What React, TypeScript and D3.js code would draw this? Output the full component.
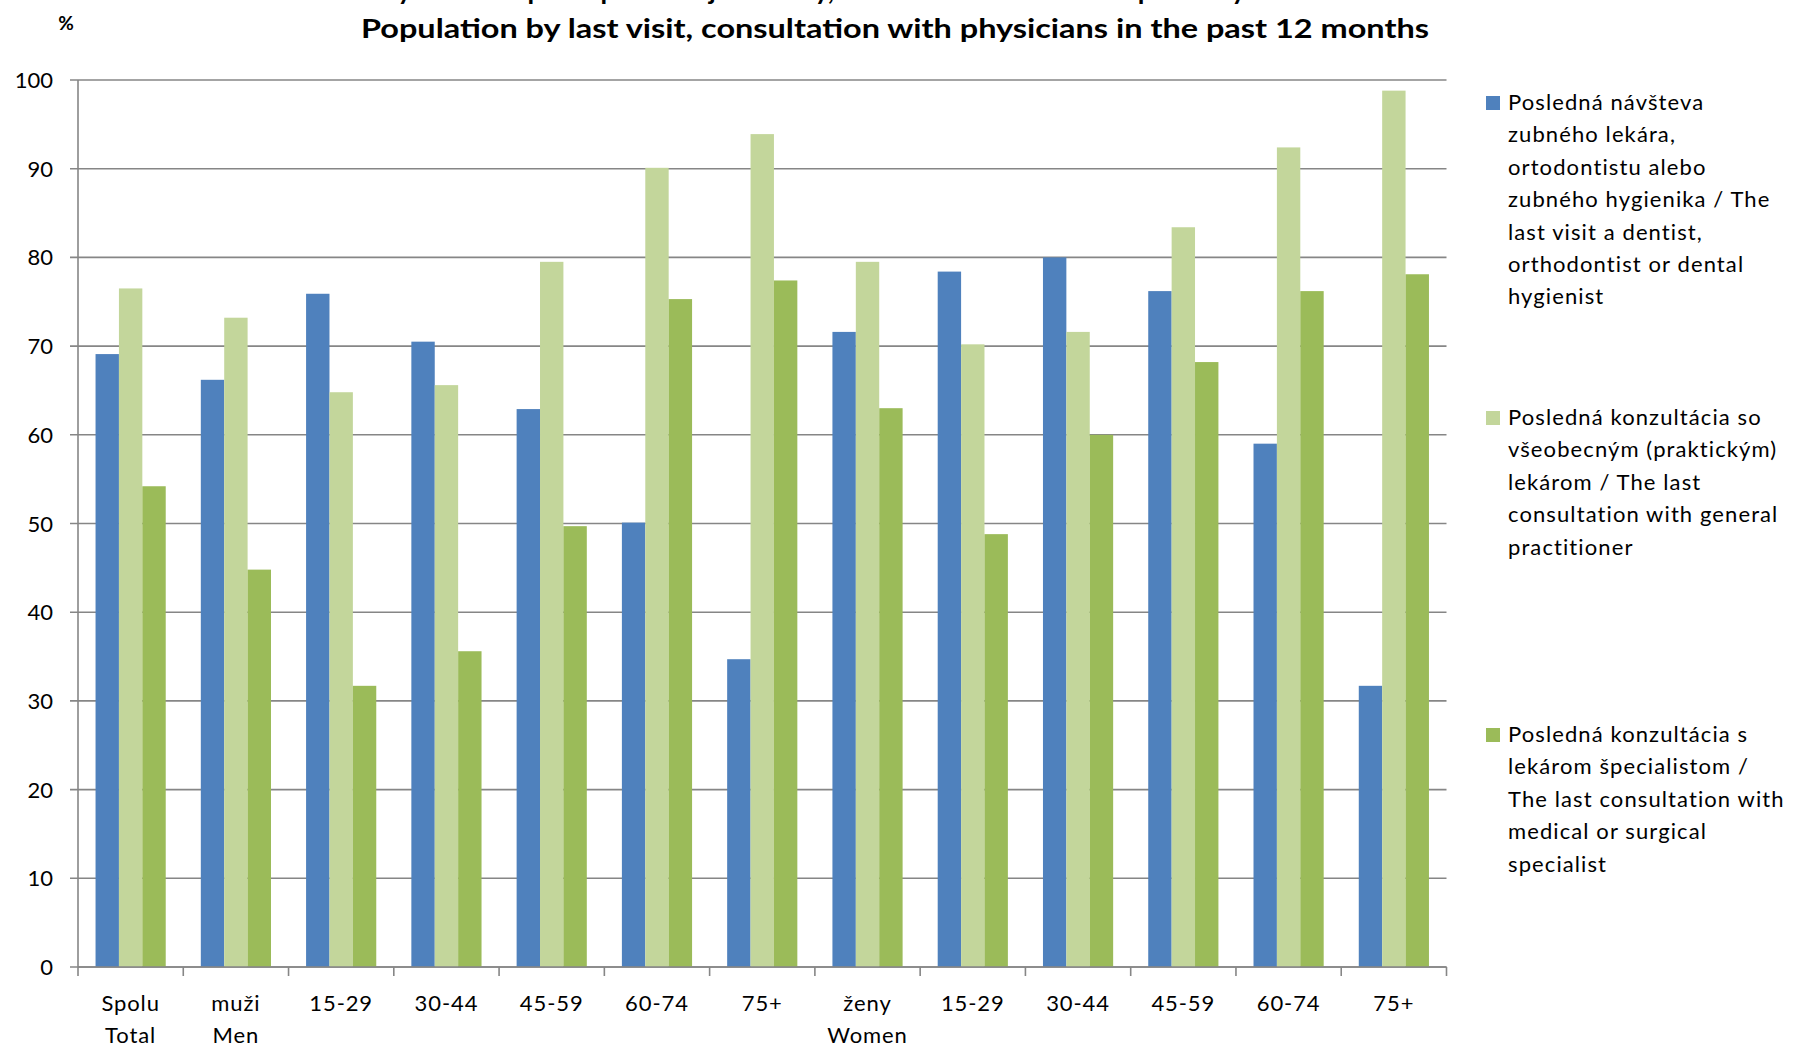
import React from "react";
import * as d3 from "d3";

const categories: string[][] = [
  ["Spolu", "Total"],
  ["muži", "Men"],
  ["15-29"],
  ["30-44"],
  ["45-59"],
  ["60-74"],
  ["75+"],
  ["ženy", "Women"],
  ["15-29"],
  ["30-44"],
  ["45-59"],
  ["60-74"],
  ["75+"],
];

const dentist = [69.1, 66.2, 75.9, 70.5, 62.9, 50.1, 34.7, 71.6, 78.4, 80.0, 76.2, 59.0, 31.7];
const generalPractitioner = [76.5, 73.2, 64.8, 65.6, 79.5, 90.1, 93.9, 79.5, 70.2, 71.6, 83.4, 92.4, 98.8];
const specialist = [54.2, 44.8, 31.7, 35.6, 49.7, 75.3, 77.4, 63.0, 48.8, 60.0, 68.2, 76.2, 78.1];

const seriesNames: string[][] = [
  [
    "Posledná návšteva",
    "zubného lekára,",
    "ortodontistu alebo",
    "zubného hygienika / The",
    "last visit a dentist,",
    "orthodontist or dental",
    "hygienist",
  ],
  [
    "Posledná konzultácia so",
    "všeobecným (praktickým)",
    "lekárom / The last",
    "consultation with general",
    "practitioner",
  ],
  [
    "Posledná konzultácia s",
    "lekárom špecialistom /",
    "The last consultation with",
    "medical or surgical",
    "specialist",
  ],
];

const yTicks = [0, 10, 20, 30, 40, 50, 60, 70, 80, 90, 100];
const titleLines = [
  "Obyvateľstvo podľa poslednej návštevy, konzultácie s lekárom za posledných 12 mesiacov",
  "Population by last visit, consultation with physicians in the past 12 months",
];

const colors = ["#4F81BD", "#C3D69B", "#9BBB59"];
const allSeries = [dentist, generalPractitioner, specialist];

export default function App() {
  const W = 1793;
  const H = 1046;
  const left = 78;
  const right = 1446.5;
  const top = 80;
  const bottom = 967;
  const font = "Lato, 'Open Sans', sans-serif";

  const x = d3
    .scaleBand<number>()
    .domain(categories.map((_, i) => i))
    .range([left, right])
    .paddingInner(0)
    .paddingOuter(0);
  const y = d3.scaleLinear().domain([0, 100]).range([bottom, top]);
  const bw = x.bandwidth();
  const barW = bw / 4.5;
  const inner = d3
    .scaleBand<number>()
    .domain([0, 1, 2])
    .range([0.75 * barW, 0.75 * barW + 3 * barW]);

  const legendTops = [110, 425, 742];
  const lineStep = 32.4;

  return (
    <svg
      width={W}
      height={H}
      style={{ position: "absolute", left: 0, top: 0, background: "#fff" }}
      fontFamily={font}
    >
      <rect x={0} y={0} width={W} height={H} fill="#fff" />
      {/* title */}
      <text
        x={895}
        y={0}
        textAnchor="middle"
        fontWeight="bold"
        fontSize={27}
        textLength={1068}
        lengthAdjust="spacingAndGlyphs"
      >
        {titleLines[0]}
      </text>
      <text
        x={895}
        y={38}
        textAnchor="middle"
        fontWeight="bold"
        fontSize={27}
        textLength={1068}
        lengthAdjust="spacingAndGlyphs"
      >
        {titleLines[1]}
      </text>
      <text x={66} y={30} textAnchor="middle" fontWeight="bold" fontSize={19}>
        %
      </text>

      {/* gridlines and y ticks */}
      {yTicks.map((t) => (
        <g key={t}>
          <line x1={left - 8} x2={right} y1={y(t)} y2={y(t)} stroke="#868686" strokeWidth={1.6} />
          <text x={53} y={y(t) + 8} textAnchor="end" fontSize={22} fill="#000">
            {t}
          </text>
        </g>
      ))}
      <line x1={left} x2={left} y1={top} y2={bottom} stroke="#868686" strokeWidth={1.6} />

      {/* bars */}
      {categories.map((_, ci) => (
        <g key={ci} transform={`translate(${x(ci)},0)`}>
          {allSeries.map((s, si) => (
            <rect
              key={si}
              x={inner(si)}
              y={y(s[ci])}
              width={inner.bandwidth()}
              height={y(0) - y(s[ci])}
              fill={colors[si]}
            />
          ))}
        </g>
      ))}

      {/* x axis */}
      <line x1={left} x2={right} y1={bottom} y2={bottom} stroke="#868686" strokeWidth={1.6} />
      {d3.range(categories.length + 1).map((i) => {
        const xx = left + i * bw;
        return <line key={i} x1={xx} x2={xx} y1={bottom} y2={bottom + 9} stroke="#868686" strokeWidth={1.6} />;
      })}
      {categories.map((lines, ci) => (
        <text key={ci} textAnchor="middle" fontSize={22} letterSpacing={0.9} fill="#000">
          {lines.map((l, li) => (
            <tspan key={li} x={(x(ci) as number) + bw / 2} y={1011 + li * 31.5}>
              {l}
            </tspan>
          ))}
        </text>
      ))}

      {/* legend */}
      {seriesNames.map((lines, si) => (
        <g key={si}>
          <rect x={1486} y={legendTops[si] - 14} width={14} height={14} fill={colors[si]} />
          <text fontSize={22} letterSpacing={1.1} fill="#000">
            {lines.map((l, li) => (
              <tspan key={li} x={1508} y={legendTops[si] + li * lineStep}>
                {l}
              </tspan>
            ))}
          </text>
        </g>
      ))}
    </svg>
  );
}
